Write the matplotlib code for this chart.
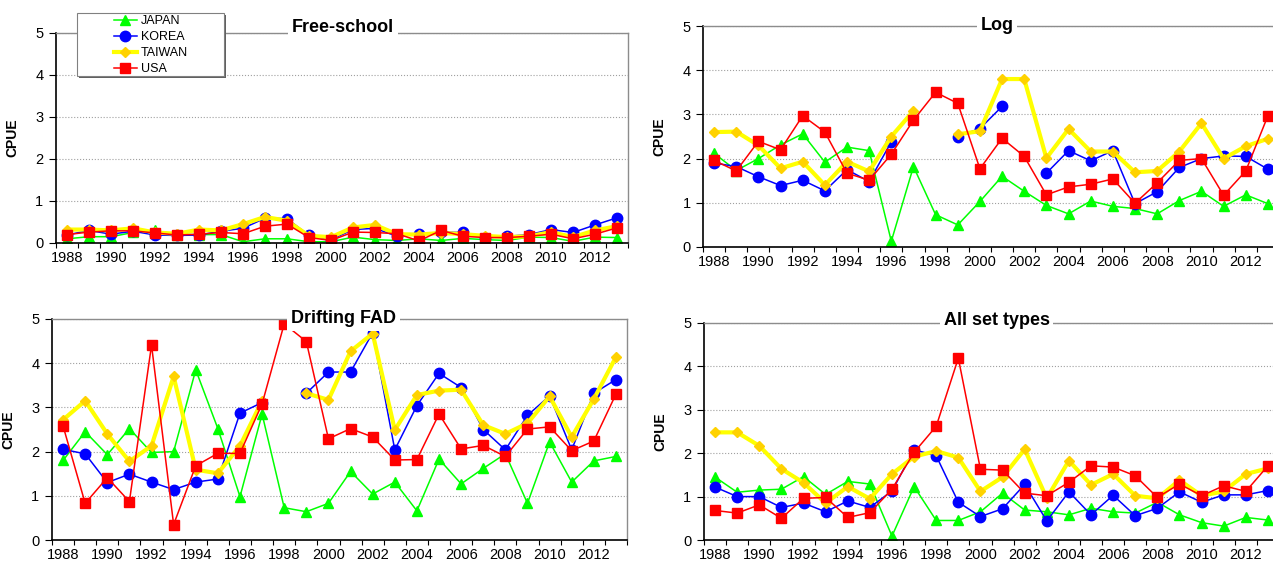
import numpy as np
import matplotlib
matplotlib.use("Agg")
import matplotlib.pyplot as plt
from matplotlib.lines import Line2D
from matplotlib.patches import Rectangle

plt.rcParams['font.family'] = ['Liberation Sans', 'DejaVu Sans']

nan = np.nan
years = list(range(1988, 2014))
countries = ["JAPAN", "KOREA", "TAIWAN", "USA"]

# Free-school
fs_japan = [0.10, 0.15, 0.15, 0.25, 0.30, 0.20, 0.20, 0.20, 0.03, 0.10, 0.10, 0.03, 0.03,
            0.14, 0.08, 0.06, 0.10, 0.06, 0.11, 0.08, 0.06, 0.14, 0.13, 0.04, 0.14, 0.13]
fs_korea = [0.19, 0.30, 0.21, 0.28, 0.19, 0.18, 0.19, 0.28, 0.35, 0.59, 0.58, 0.18, 0.08,
            0.32, 0.35, 0.16, 0.21, 0.26, 0.25, 0.12, 0.16, 0.20, 0.32, 0.25, 0.43, 0.60]
fs_taiwan = [0.32, 0.32, 0.30, 0.35, 0.25, 0.22, 0.32, 0.30, 0.45, 0.62, 0.53, 0.17, 0.14,
             0.37, 0.43, 0.21, 0.20, 0.24, 0.21, 0.17, 0.14, 0.16, 0.26, 0.14, 0.30, 0.40]
fs_usa = [0.20, 0.26, 0.29, 0.29, 0.24, 0.19, 0.21, 0.25, 0.22, 0.40, 0.45, 0.13, 0.06,
          0.26, 0.25, 0.22, 0.05, 0.30, 0.16, 0.13, 0.13, 0.16, 0.21, 0.10, 0.21, 0.36]

# Log
log_japan = [2.12, 1.73, 2.00, 2.31, 2.56, 1.92, 2.26, 2.18, 0.13, 1.82, 0.73, 0.50, 1.03,
             1.60, 1.26, 0.94, 0.75, 1.04, 0.92, 0.87, 0.75, 1.05, 1.26, 0.92, 1.18, 0.98]
log_korea = [1.90, 1.82, 1.59, 1.39, 1.51, 1.27, 1.75, 1.48, 2.38, nan, nan, 2.50, 2.68,
             3.18, nan, 1.67, 2.18, 1.95, 2.18, 0.98, 1.25, 1.80, 2.00, 2.06, 2.05, 1.76]
log_taiwan = [2.60, 2.61, 2.30, 1.78, 1.93, 1.40, 1.93, 1.71, 2.50, 3.08, nan, 2.55, 2.62,
              3.80, 3.80, 2.01, 2.67, 2.16, 2.16, 1.69, 1.72, 2.16, 2.80, 2.00, 2.28, 2.45]
log_usa = [1.96, 1.72, 2.39, 2.20, 2.97, 2.60, 1.67, 1.51, 2.10, 2.87, 3.50, 3.25, 1.77,
           2.46, 2.05, 1.18, 1.36, 1.42, 1.54, 0.99, 1.45, 1.96, 2.00, 1.17, 1.72, 2.97]

# Drifting FAD
dfad_japan = [1.80, 2.45, 1.93, 2.52, 1.98, 2.00, 3.85, 2.52, 0.98, 2.85, 0.73, 0.64, 0.83,
              1.55, 1.04, 1.31, 0.66, 1.83, 1.27, 1.62, 1.95, 0.83, 2.22, 1.31, 1.79, 1.89]
dfad_korea = [2.05, 1.95, 1.30, 1.49, 1.31, 1.14, 1.31, 1.38, 2.87, 3.11, nan, 3.32, 3.80,
              3.80, 4.69, 2.04, 3.04, 3.77, 3.45, 2.50, 2.04, 2.82, 3.26, 2.04, 3.32, 3.63]
dfad_taiwan = [2.72, 3.15, 2.40, 1.78, 2.13, 3.70, 1.59, 1.51, 2.13, 3.15, nan, 3.32, 3.17,
               4.27, 4.67, 2.49, 3.28, 3.38, 3.40, 2.60, 2.40, 2.64, 3.25, 2.33, 3.19, 4.14]
dfad_usa = [2.58, 0.83, 1.41, 0.87, 4.41, 0.35, 1.68, 1.96, 1.96, 3.08, 4.89, 4.49, 2.29,
            2.52, 2.33, 1.81, 1.82, 2.85, 2.06, 2.14, 1.89, 2.51, 2.56, 2.02, 2.24, 3.30]

# All set types
all_japan = [1.45, 1.10, 1.15, 1.17, 1.46, 1.05, 1.35, 1.29, 0.09, 1.23, 0.45, 0.45, 0.65,
             1.08, 0.69, 0.65, 0.58, 0.73, 0.65, 0.62, 0.87, 0.58, 0.40, 0.32, 0.52, 0.46]
all_korea = [1.22, 1.00, 1.00, 0.75, 0.85, 0.65, 0.90, 0.75, 1.13, 2.08, 1.94, 0.87, 0.54,
             0.72, 1.28, 0.44, 1.11, 0.58, 1.03, 0.56, 0.73, 1.11, 0.87, 1.04, 1.04, 1.14]
all_taiwan = [2.48, 2.48, 2.17, 1.64, 1.32, 0.85, 1.23, 0.95, 1.52, 1.92, 2.05, 1.90, 1.12,
              1.45, 2.09, 0.96, 1.83, 1.27, 1.52, 1.02, 0.96, 1.38, 1.02, 1.12, 1.52, 1.65]
all_usa = [0.68, 0.62, 0.81, 0.50, 0.96, 0.98, 0.52, 0.63, 1.17, 2.02, 2.62, 4.19, 1.63,
           1.61, 1.08, 1.02, 1.33, 1.71, 1.68, 1.48, 0.98, 1.29, 1.02, 1.25, 1.12, 1.71]

W, H = 1273, 566
fig = plt.figure(figsize=(W / 100, H / 100), dpi=100)

# series styles: color, marker, marker color, size, line width
styles = {
    "JAPAN": dict(color="#00FF00", marker="^", mfc="#00FF00", mec="#00FF00", ms=7.5, lw=1.1),
    "KOREA": dict(color="#0000FF", marker="o", mfc="#0000FF", mec="#0000FF", ms=7.5, lw=1.1),
    "TAIWAN": dict(color="#FFFF00", marker="D", mfc="#FFD200", mec="#FFD200", ms=5.5, lw=3.0),
    "USA": dict(color="#FF0000", marker="s", mfc="#FF0000", mec="#FF0000", ms=6.5, lw=1.1),
}

# (title, data, axes box in px [left, top, right, bottom], title centre x px, baseline offset px)
panels = [
    ("Free-school", [fs_japan, fs_korea, fs_taiwan, fs_usa], (56, 33, 628, 243), 343, 1),
    ("Log", [log_japan, log_korea, log_taiwan, log_usa], (703, 26, 1279, 247), 997, -4),
    ("Drifting FAD", [dfad_japan, dfad_korea, dfad_taiwan, dfad_usa], (52, 319, 627, 540), 343.5, -4),
    ("All set types", [all_japan, all_korea, all_taiwan, all_usa], (704, 323, 1279, 540), 996.5, -2),
]

for title, series, box, tx, toff in panels:
    l, t, r, b = box
    ax = fig.add_axes([l / W, 1 - b / H, (r - l) / W, (b - t) / H])
    for name, vals in zip(countries, series):
        ax.plot(years, vals, label=name, **styles[name])

    ax.set_xlim(1987.5, 2013.5)
    ax.set_ylim(0, 5)
    ax.set_yticks(range(0, 6))
    ax.set_xticks(range(1988, 2013, 2))
    ax.set_xticks(np.arange(1987.5, 2014, 1), minor=True)
    ax.tick_params(axis="x", which="major", length=0, pad=6, labelsize=10.5)
    ax.tick_params(axis="x", which="minor", length=3.6, width=0.8, direction="out")
    ax.tick_params(axis="y", length=5, width=0.8, pad=4, labelsize=10.5)
    ax.grid(axis="y", linestyle=":", color="#a0a0a0", linewidth=0.8)
    ax.set_axisbelow(True)

    for side in ["left", "bottom"]:
        ax.spines[side].set_color("black")
        ax.spines[side].set_linewidth(1.2)
    for side in ["top", "right"]:
        ax.spines[side].set_color("#8c8c8c")
        ax.spines[side].set_linewidth(1.0)

    ax.set_ylabel("CPUE", fontsize=10, fontweight="bold")
    ax.yaxis.set_label_coords(-37 / (r - l), 0.5)

    ax.annotate(title, xy=((tx - l) / (r - l), 1), xycoords="axes fraction",
                xytext=(0, toff * 0.72), textcoords="offset points",
                ha="center", va="baseline", fontsize=13, fontweight="bold",
                bbox=dict(boxstyle="square,pad=0.2", facecolor="white", edgecolor="none"),
                zorder=10, annotation_clip=False)

# legend box (top-left panel)
fig.patches.append(Rectangle((79 / W, 1 - 78 / H), 147 / W, 63 / H, transform=fig.transFigure,
                             facecolor="#606060", edgecolor="none", zorder=4))
fig.patches.append(Rectangle((77 / W, 1 - 76 / H), 147 / W, 63 / H, transform=fig.transFigure,
                             facecolor="white", edgecolor="#808080", linewidth=0.8, zorder=4.5))
handles = [Line2D([], [], **styles[n]) for n in countries]
fig.legend(handles, countries, loc="upper left", bbox_to_anchor=(114 / W, 1 - 15 / H),
           frameon=False, fontsize=9, handlelength=1.8, handletextpad=0.35,
           borderpad=0.0, borderaxespad=0.0, labelspacing=0.33)

fig.savefig("out.png", dpi=100)
